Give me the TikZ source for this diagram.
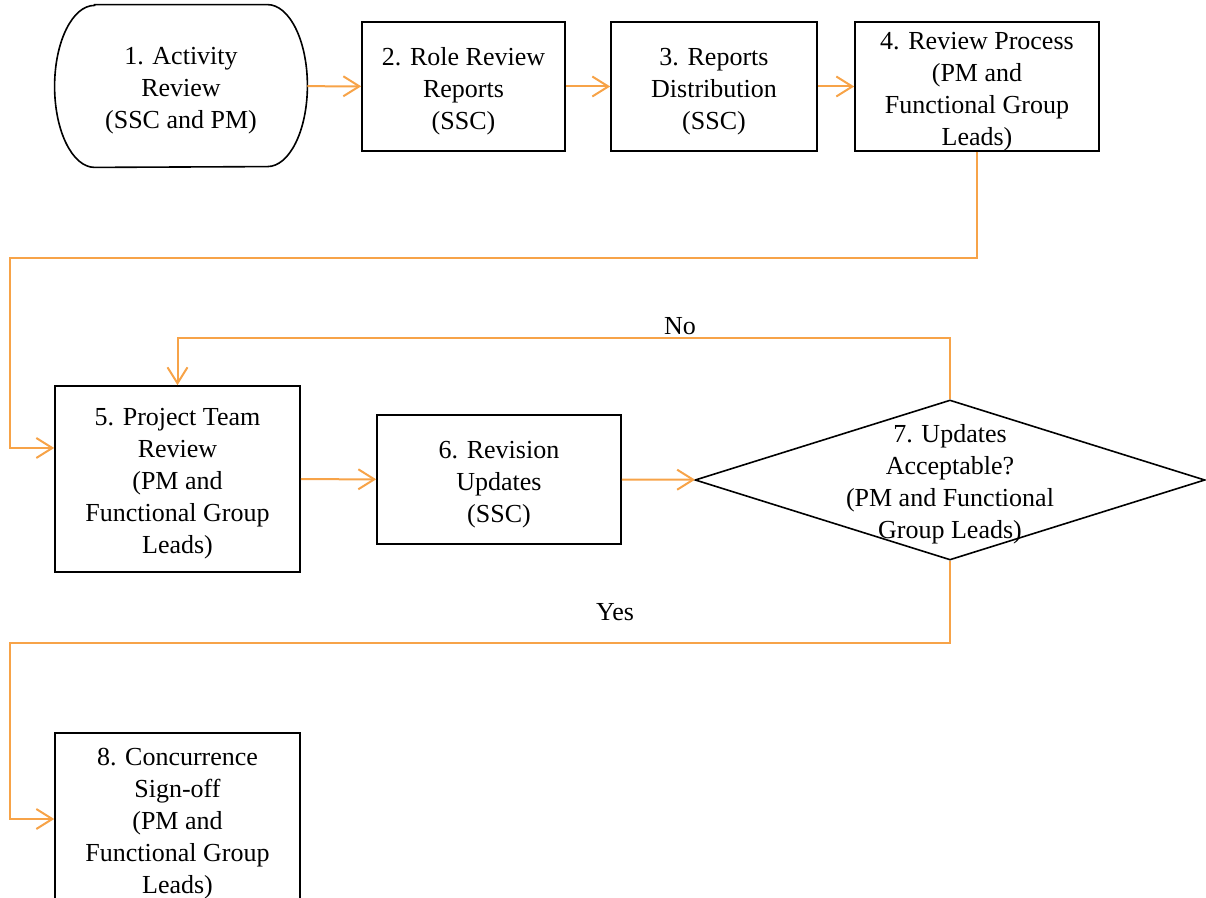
\documentclass[tikz,border=0pt]{standalone}
\usepackage{fontspec}
\setmainfont{Liberation Serif}
\usetikzlibrary{shapes.geometric,arrows.meta}
\definecolor{flowline}{RGB}{247,163,72}
\newcommand{\tallstrut}{\rule{0pt}{13.5pt}}
\begin{document}
\begin{tikzpicture}[x=0.5pt,y=-0.5pt,
	every node/.style={font=\fontsize{13}{16}\selectfont, align=center, inner sep=0pt},
	box/.style={draw, line width=0.8pt, minimum height=64.5pt},
	decision/.style={diamond, draw, line width=0.8pt, minimum width=255pt, minimum height=80pt},
	flow/.style={draw=flowline, line width=1pt, -{Straight Barb[length=8pt,width=10pt]}}]

\clip (0,0) rectangle (1206,898);

% steps
\node[minimum width=126pt, minimum height=81pt] (n1) at (181,86) {\tallstrut 1. Activity\\Review\\(SSC and PM)};
\draw[line width=0.8pt] ([xshift=20pt]n1.north west) -- ([xshift=-20pt]n1.north east)
	arc[start angle=90, end angle=-90, x radius=20pt, y radius=40.5pt]
	-- ([xshift=20pt]n1.south west)
	arc[start angle=270, end angle=90, x radius=20pt, y radius=40.5pt] -- cycle;
\node[box, minimum width=101.5pt] (n2) at (463.5,86.5) {\tallstrut 2. Role Review\\Reports\\(SSC)};
\node[box, minimum width=103pt] (n3) at (714,86.5) {\tallstrut 3. Reports\\Distribution\\(SSC)};
\node[box, minimum width=122pt] (n4) at (977,86.5) {\tallstrut 4. Review Process\\(PM and\\Functional Group\\Leads)};
\node[box, minimum width=122.5pt, minimum height=93pt] (n5) at (177.5,479) {\tallstrut 5. Project Team\\Review\\(PM and\\Functional Group\\Leads)};
\node[box, minimum width=122pt] (n6) at (499,479.5) {\tallstrut 6. Revision\\Updates\\(SSC)};
\node[decision, label={[align=center]center:\tallstrut 7. Updates\\Acceptable?\\(PM and Functional\\Group Leads)}] (n7) at (950,480) {};
\node[box, minimum width=122.5pt, minimum height=86pt] (n8) at (177.5,819) {\tallstrut 8. Concurrence\\Sign-off\\(PM and\\Functional Group\\Leads)};

% bends
\coordinate (a1) at (10,258);
\coordinate (b1) at (177.5,338);
\coordinate (c1) at (10,643);

\foreach \u \v in {
n1/n2%
,n2/n3%
,n3/n4%
,n5/n6%
,n6/n7%
}{
	\draw[flow] (\u) -- (\v);
}

\draw[flow] (n4.south) |- (a1) |- ([yshift=15.5pt]n5.west);
\draw[flow] (n7.north) |- (b1) -- (n5.north);
\draw[flow] (n7.south) |- (c1) |- (n8.west);

\node (no) at (680,326) {No};
\node (yes) at (615,612) {Yes};

\end{tikzpicture}
\end{document}
